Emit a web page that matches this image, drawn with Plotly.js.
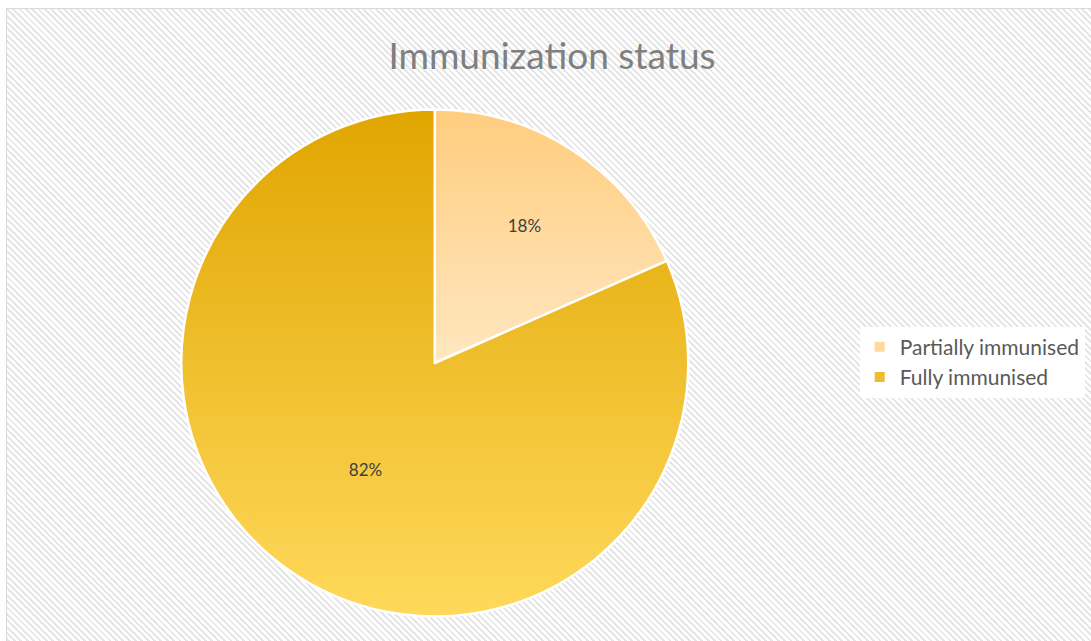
<!DOCTYPE html>
<html>
<head>
<meta charset="utf-8">
<script src="https://cdn.plot.ly/plotly-3.0.1.min.js"></script>
<style>
  html, body { margin: 0; padding: 0; background: #ffffff; overflow: hidden; }
  #frame {
    position: absolute; left: 6px; top: 8px; width: 1100px; height: 650px;
    border: 1.5px solid #d9d9d9; box-sizing: border-box;
    background: repeating-linear-gradient(45deg, #ffffff 0px, #ffffff 2.5px, #e6e6e6 2.5px, #e6e6e6 4.5px);
  }
  #chart { position: absolute; left: 0; top: 0; width: 1091px; height: 641px; }
</style>
</head>
<body>
<div id="frame"></div>
<div id="chart"></div>
<script>
const chartTitle = 'Immunization status';
const categories = ['Partially immunised', 'Fully immunised'];
const shares = [18.4, 81.6];
const sliceColors = ['#FFDA9E', '#EDBD2E'];
const gradientStops = [['#FFCD7E', '#FFE7C0'], ['#E0A500', '#FFD95B']];

const trace = {
  type: 'pie',
  labels: categories,
  values: shares,
  sort: false,
  direction: 'clockwise',
  rotation: 0,
  marker: { colors: sliceColors, line: { color: '#ffffff', width: 2.5 } },
  texttemplate: '%{percent:.0%}',
  textposition: 'inside',
  insidetextorientation: 'horizontal',
  textfont: { family: 'Lato, "Open Sans", sans-serif', size: 17, color: '#404040' },
  hoverinfo: 'none',
  domain: { x: [0.1645, 0.6325], y: [0.0382, 0.8292] }
};

const layout = {
  width: 1091, height: 641,
  margin: { l: 0, r: 0, t: 0, b: 0 },
  paper_bgcolor: 'rgba(0,0,0,0)',
  plot_bgcolor: 'rgba(0,0,0,0)',
  title: {
    text: chartTitle,
    x: 0.506, xanchor: 'center',
    y: 0.912, yanchor: 'middle',
    font: { family: 'Lato, "Open Sans", sans-serif', size: 37, color: '#7f7f7f' }
  },
  showlegend: true,
  legend: {
    x: 0.788, xanchor: 'left',
    y: 0.435, yanchor: 'middle',
    bgcolor: '#ffffff',
    borderwidth: 0,
    font: { family: 'Lato, "Open Sans", sans-serif', size: 21, color: '#595959' },
    itemsizing: 'constant'
  }
};

Plotly.newPlot('chart', [trace], layout, { displayModeBar: false, staticPlot: true }).then(function (gd) {
  const svg = gd.querySelector('svg.main-svg');
  const ns = 'http://www.w3.org/2000/svg';
  let defs = svg.querySelector('defs');
  if (!defs) { defs = document.createElementNS(ns, 'defs'); svg.insertBefore(defs, svg.firstChild); }
  gradientStops.forEach(function (stops, i) {
    const g = document.createElementNS(ns, 'linearGradient');
    g.setAttribute('id', 'sliceGrad' + i);
    g.setAttribute('x1', '0'); g.setAttribute('y1', '0');
    g.setAttribute('x2', '0'); g.setAttribute('y2', '1');
    stops.forEach(function (c, j) {
      const s = document.createElementNS(ns, 'stop');
      s.setAttribute('offset', j === 0 ? '0' : '1');
      s.setAttribute('stop-color', c);
      g.appendChild(s);
    });
    defs.appendChild(g);
  });
  gd.querySelectorAll('.pielayer g.slice').forEach(function (sl, i) {
    const p = sl.querySelector('path.surface');
    if (p) p.style.fill = 'url(#sliceGrad' + i + ')';
  });
});
</script>
</body>
</html>
